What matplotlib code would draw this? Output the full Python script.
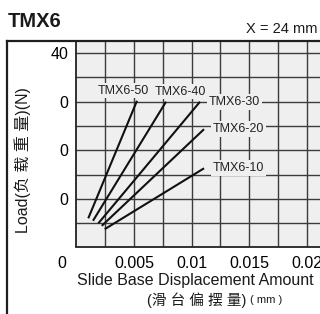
import matplotlib
matplotlib.use("Agg")
import matplotlib.pyplot as plt
from matplotlib.lines import Line2D
import numpy as np

plt.rcParams['font.family'] = ['Liberation Sans', 'Noto Sans CJK SC', 'DejaVu Sans']

# ---- data ----
series_names = ["TMX6-50", "TMX6-40", "TMX6-30", "TMX6-20", "TMX6-10"]
x_start = [0.00103, 0.00144, 0.00190, 0.00220, 0.00246]
y_start = [6.0, 5.5, 4.96, 4.45, 3.77]
x_end = [0.00526, 0.00778, 0.01073, 0.01108, 0.01108]
y_end = [30.2, 30.0, 30.0, 24.35, 16.3]

x_tick_vals = [0.005, 0.01, 0.015, 0.02]
x_tick_labels = ["0.005", "0.01", "0.015", "0.02"]
y_tick_vals = [40, 30, 20, 10]
y_tick_labels = ["40", "0", "0", "0"]

W, H = 320, 314
fig = plt.figure(figsize=(W / 100, H / 100), dpi=100)

left_px, right_px, top_px, bot_px = 76.4, 320, 42, 246.5
ax = fig.add_axes([left_px / W, 1 - bot_px / H, (right_px - left_px) / W, (bot_px - top_px) / H])
ax.set_facecolor('#efefef')
ax.set_xlim(0, 0.021146)
ax.set_ylim(0.2, 42.3)

ax.set_xticks(x_tick_vals)
ax.set_xticklabels(x_tick_labels, fontsize=11.5)
ax.set_yticks(y_tick_vals)
ax.set_yticklabels(y_tick_labels, fontsize=11.5)
ax.set_xticks(np.arange(0.0025, 0.0212, 0.0025), minor=True)
ax.set_yticks(np.arange(5, 42.3, 5), minor=True)
ax.grid(True, which='both', color='#3c3c3c', linewidth=1.0)
ax.set_axisbelow(True)
ax.tick_params(which='both', length=0)
ax.tick_params(axis='x', pad=7)
ax.tick_params(axis='y', pad=6)
ax.annotate("0", xy=(0, 0), xycoords='axes fraction', xytext=(-10.5, -7), textcoords='offset points',
            fontsize=11.5, ha='center', va='top')

for s in ['top', 'right']:
    ax.spines[s].set_visible(False)
for s in ['left', 'bottom']:
    ax.spines[s].set_color('#222222')
    ax.spines[s].set_linewidth(1.3)

for i, name in enumerate(series_names):
    ax.plot([x_start[i], x_end[i]], [y_start[i], y_end[i]], color='#111111', linewidth=1.5,
            solid_capstyle='butt', zorder=3)

# labels
box = dict(boxstyle='square,pad=0.15', facecolor='#efefef', edgecolor='none')
ax.annotate(series_names[0], xy=(x_end[0], y_end[0]), xytext=(-10, 3), textcoords='offset points',
            fontsize=9, ha='center', va='bottom', color='#222222', bbox=box, zorder=4)
ax.annotate(series_names[1], xy=(x_end[1], y_end[1]), xytext=(10, 3), textcoords='offset points',
            fontsize=9, ha='center', va='bottom', color='#222222', bbox=box, zorder=4)
for i in [2, 3, 4]:
    ax.annotate(series_names[i], xy=(x_end[i], y_end[i]), xytext=(6.5, 0), textcoords='offset points',
                fontsize=9, ha='left', va='center', color='#222222', bbox=box, zorder=4)

# frame
fig.add_artist(Line2D([7.3 / W, 7.3 / W], [0, 1 - 40.7 / H], color='#1e1e1e', linewidth=1.6))
fig.add_artist(Line2D([7.3 / W, 1], [1 - 40.7 / H, 1 - 40.7 / H], color='#1e1e1e', linewidth=1.6))

fig.text(8 / W, 1 - 27 / H, "TMX6", fontsize=14.5, fontweight='bold', ha='left', va='baseline', color='#1a1a1a')
fig.text(318 / W, 1 - 33 / H, "X = 24 mm", fontsize=10.5, ha='right', va='baseline', color='#1a1a1a')

fig.text(23 / W, 1 - 160.5 / H, "Load(负 载 重 量)(N)", fontsize=11.5, rotation=90,
         ha='center', va='center', color='#1a1a1a')
fig.text(195 / W, 1 - 281 / H, "Slide Base Displacement Amount", fontsize=11.5, ha='center', va='center',
         color='#1a1a1a')
fig.text(147 / W, 1 - 300 / H, "(滑 台 偏 摆 量)", fontsize=10.5, ha='left', va='center', color='#1a1a1a')
fig.text(250 / W, 1 - 300 / H, "( mm )", fontsize=8, ha='left', va='center', color='#1a1a1a')

fig.savefig("out.png", dpi=100)
